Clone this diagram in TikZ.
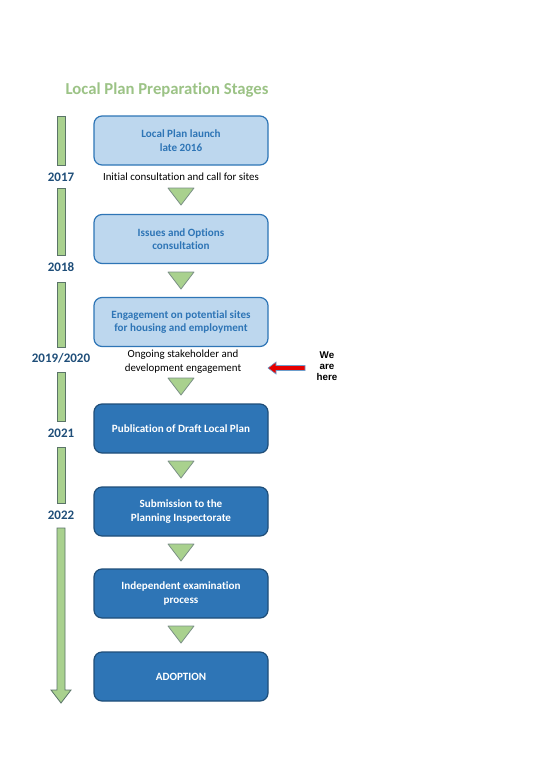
\documentclass[tikz,border=0pt]{standalone}
\usepackage{fontspec}
\setmainfont{Carlito}[Ligatures={NoCommon}]
\newfontfamily\arialfont{Liberation Sans}
\definecolor{titlegreen}{HTML}{9CC386}
\definecolor{bargreen}{HTML}{A9D18E}
\definecolor{baredge}{HTML}{5A7468}
\definecolor{lightfill}{HTML}{BDD7EE}
\definecolor{midblue}{HTML}{2E75B6}
\definecolor{darkblue}{HTML}{1F4E79}
\definecolor{arrowred}{HTML}{E50000}
\tikzset{
  stagelight/.style={draw=midblue, fill=lightfill, line width=1.2pt, rounded corners=8pt,
    minimum width=174pt, minimum height=49pt, align=center, text=midblue,
    font=\fontsize{11.1}{13.5}\selectfont\bfseries},
  stagedark/.style={draw=darkblue, fill=midblue, line width=1.2pt, rounded corners=8pt,
    minimum width=174pt, minimum height=49pt, align=center, text=white,
    font=\fontsize{11.1}{13.5}\selectfont\bfseries},
  year/.style={text=darkblue, font=\fontsize{13}{15}\selectfont\bfseries},
  note/.style={align=center, font=\fontsize{10.9}{14}\selectfont},
  timebar/.style={fill=bargreen, draw=baredge, line width=0.8pt},
  stagetri/.style={fill=bargreen, draw=baredge!80, line width=0.8pt, line join=round}
}
\begin{document}
\begin{tikzpicture}[x=1pt,y=-1pt]
    \useasboundingbox[fill=white] (0,0) rectangle (546,772);
    \node[text=titlegreen, font=\fontsize{16.7}{19}\selectfont\bfseries] (title) at (167,90) {Local Plan Preparation Stages};
    % time line
    \foreach \top/\bot in {116/165, 188/255, 282/347, 372/421, 447/503}
        \draw[timebar] (57,\top) rectangle (65,\bot);
    \draw[timebar] (57,528) -- (65,528) -- (65,690) -- (71,690) -- (61,703) -- (51,690) -- (57,690) -- cycle;
    \node[year] (y2017) at (61,177) {2017};
    \node[year] (y2018) at (61,267) {2018};
    \node[year] (y2019) at (61,358) {2019/2020};
    \node[year] (y2021) at (61,433) {2021};
    \node[year] (y2022) at (61,515) {2022};
    % stages
    \node[stagelight] (launch) at (181,140.5) {Local Plan launch\\late 2016};
    \node[note] (initial) at (181,177) {Initial consultation and call for sites};
    \node[stagelight] (issues) at (181,239) {Issues and Options\\consultation};
    \node[stagelight] (sites) at (181,322) {Engagement on potential sites\\for housing and employment};
    \node[note] (ongoing) at (183,362) {Ongoing stakeholder and\\development engagement};
    \node[stagedark] (draft) at (181,428.5) {Publication of Draft Local Plan};
    \node[stagedark] (submission) at (181,511.5) {Submission to the\\Planning Inspectorate};
    \node[stagedark] (exam) at (181,593.5) {Independent examination\\process};
    \node[stagedark] (adoption) at (181,676.5) {ADOPTION};
    % triangles between stages
    \foreach \top in {188, 272, 378, 461, 544, 626}
        \draw[stagetri] (168,\top) -- (194,\top) -- (181,\top+17) -- cycle;
    % we are here
    \node[align=center, font=\arialfont\fontsize{9.8}{11}\selectfont\bfseries] (here) at (327,366) {We\\are\\here};
    \draw[fill=arrowred, draw=midblue!70, line width=0.6pt] (305,365.5) -- (276,365.5) -- (276,362) -- (268,368) -- (276,374) -- (276,370.5) -- (305,370.5) -- cycle;
\end{tikzpicture}
\end{document}
